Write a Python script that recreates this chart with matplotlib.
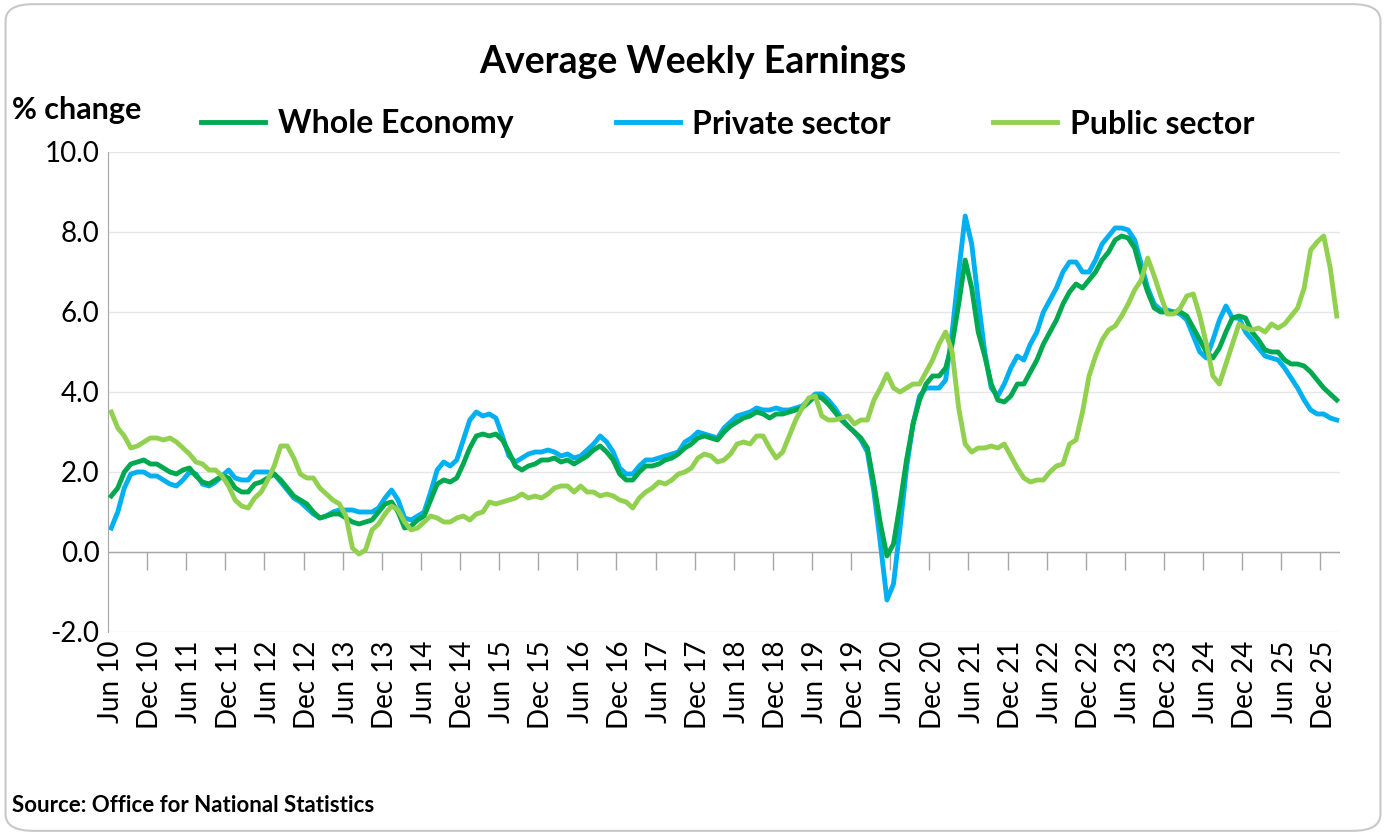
import matplotlib.pyplot as plt
from matplotlib.patches import FancyBboxPatch

plt.rcParams['font.family'] = ['Lato', 'DejaVu Sans']

# monthly values Jun 2010 .. Feb 2026
whole = [1.4, 1.6, 2.0, 2.2, 2.25, 2.3, 2.2,
         2.2, 2.1, 2.0, 1.95, 2.05, 2.1, 1.9, 1.75, 1.7, 1.8, 1.9, 1.85,
         1.6, 1.5, 1.5, 1.7, 1.75, 1.85, 1.95, 1.8, 1.6, 1.4, 1.3, 1.2,
         1.0, 0.85, 0.9, 0.95, 0.95, 0.85, 0.75, 0.7, 0.75, 0.8, 1.0, 1.2,
         1.25, 1.0, 0.6, 0.65, 0.8, 0.9, 1.3, 1.7, 1.8, 1.75, 1.85, 2.2,
         2.6, 2.9, 2.95, 2.9, 2.95, 2.8, 2.5, 2.15, 2.05, 2.15, 2.2, 2.3,
         2.3, 2.35, 2.25, 2.3, 2.2, 2.3, 2.4, 2.55, 2.65, 2.5, 2.3, 1.95,
         1.8, 1.8, 2.0, 2.15, 2.15, 2.2, 2.3, 2.35, 2.45, 2.6, 2.7, 2.85,
         2.9, 2.85, 2.8, 3.0, 3.15, 3.25, 3.35, 3.4, 3.5, 3.45, 3.35, 3.45,
         3.45, 3.5, 3.55, 3.6, 3.75, 3.9, 3.85, 3.7, 3.5, 3.3, 3.15, 3.0,
         2.85, 2.6, 1.7, 0.7, -0.1, 0.2, 1.2, 2.3, 3.2, 3.8, 4.2, 4.4,
         4.4, 4.6, 5.2, 6.2, 7.3, 6.6, 5.5, 4.9, 4.2, 3.8, 3.75, 3.9,
         4.2, 4.2, 4.5, 4.8, 5.2, 5.5, 5.8, 6.2, 6.5, 6.7, 6.6, 6.8,
         7.0, 7.3, 7.5, 7.8, 7.9, 7.85, 7.6, 7.0, 6.5, 6.1, 6.0, 6.0,
         6.0, 6.0, 5.9, 5.6, 5.3, 5.0, 4.85, 5.1, 5.5, 5.85, 5.9, 5.85,
         5.5, 5.3, 5.05, 5.0, 5.0, 4.8, 4.7, 4.7, 4.65, 4.5, 4.3, 4.1,
         3.95, 3.8]
private = [0.6, 1.0, 1.6, 1.95, 2.0, 2.0, 1.9,
           1.9, 1.8, 1.7, 1.65, 1.8, 2.0, 1.95, 1.7, 1.65, 1.75, 1.9, 2.05,
           1.85, 1.8, 1.8, 2.0, 2.0, 2.0, 1.95, 1.75, 1.55, 1.35, 1.25, 1.1,
           0.95, 0.85, 0.9, 1.0, 1.05, 1.05, 1.05, 1.0, 1.0, 1.0, 1.1, 1.35,
           1.55, 1.3, 0.85, 0.8, 0.9, 1.0, 1.5, 2.05, 2.25, 2.15, 2.3, 2.8,
           3.3, 3.5, 3.4, 3.45, 3.35, 2.9, 2.4, 2.25, 2.35, 2.45, 2.5, 2.5,
           2.55, 2.5, 2.4, 2.45, 2.35, 2.4, 2.55, 2.7, 2.9, 2.75, 2.5, 2.1,
           1.95, 1.95, 2.15, 2.3, 2.3, 2.35, 2.4, 2.45, 2.5, 2.75, 2.85, 3.0,
           2.95, 2.9, 2.85, 3.1, 3.25, 3.4, 3.45, 3.5, 3.6, 3.55, 3.55, 3.6,
           3.55, 3.55, 3.6, 3.65, 3.8, 3.95, 3.95, 3.8, 3.6, 3.35, 3.15, 3.0,
           2.8, 2.5, 1.5, 0.2, -1.2, -0.8, 0.6, 2.1, 3.2, 3.9, 4.1, 4.1,
           4.1, 4.3, 5.5, 7.0, 8.4, 7.7, 6.3, 5.0, 4.1, 3.9, 4.2, 4.6,
           4.9, 4.8, 5.2, 5.5, 6.0, 6.3, 6.6, 7.0, 7.25, 7.25, 7.0, 7.0,
           7.3, 7.7, 7.9, 8.1, 8.1, 8.05, 7.8, 7.2, 6.6, 6.2, 6.05, 6.05,
           6.0, 5.95, 5.8, 5.4, 5.0, 4.85, 5.3, 5.8, 6.15, 5.85, 5.85, 5.5,
           5.3, 5.1, 4.9, 4.85, 4.8, 4.6, 4.35, 4.1, 3.8, 3.55, 3.45, 3.45,
           3.35, 3.3]
public = [3.5, 3.1, 2.9, 2.6, 2.65, 2.75, 2.85,
          2.85, 2.8, 2.85, 2.75, 2.6, 2.45, 2.25, 2.2, 2.05, 2.05, 1.9, 1.65,
          1.3, 1.15, 1.1, 1.35, 1.5, 1.8, 2.15, 2.65, 2.65, 2.35, 1.95, 1.85,
          1.85, 1.6, 1.45, 1.3, 1.2, 0.9, 0.1, -0.05, 0.05, 0.55, 0.7, 0.95,
          1.15, 1.05, 0.75, 0.55, 0.6, 0.75, 0.9, 0.85, 0.75, 0.75, 0.85, 0.9,
          0.8, 0.95, 1.0, 1.25, 1.2, 1.25, 1.3, 1.35, 1.45, 1.35, 1.4, 1.35,
          1.45, 1.6, 1.65, 1.65, 1.5, 1.65, 1.5, 1.5, 1.4, 1.45, 1.4, 1.3,
          1.25, 1.1, 1.35, 1.5, 1.6, 1.75, 1.7, 1.8, 1.95, 2.0, 2.1, 2.35,
          2.45, 2.4, 2.25, 2.3, 2.45, 2.7, 2.75, 2.7, 2.9, 2.9, 2.6, 2.35,
          2.5, 2.9, 3.3, 3.6, 3.85, 3.9, 3.4, 3.3, 3.3, 3.35, 3.4, 3.2,
          3.3, 3.3, 3.8, 4.1, 4.45, 4.1, 4.0, 4.1, 4.2, 4.2, 4.5, 4.8,
          5.2, 5.5, 5.0, 3.6, 2.7, 2.5, 2.6, 2.6, 2.65, 2.6, 2.7, 2.4,
          2.1, 1.85, 1.75, 1.8, 1.8, 2.0, 2.15, 2.2, 2.7, 2.8, 3.5, 4.4,
          4.9, 5.3, 5.55, 5.65, 5.9, 6.2, 6.55, 6.8, 7.35, 6.9, 6.4, 5.95,
          5.95, 6.1, 6.4, 6.45, 5.9, 5.2, 4.4, 4.2, 4.7, 5.2, 5.7, 5.6,
          5.55, 5.6, 5.5, 5.7, 5.6, 5.7, 5.9, 6.1, 6.6, 7.55, 7.75, 7.9,
          7.1, 5.9]

tick_labels = [f"{m} {y:02d}" for y in range(10, 26) for m in ("Jun", "Dec")]
x = list(range(len(whole)))

fig = plt.figure(figsize=(13.86, 8.35), dpi=100)
fig.patches.append(FancyBboxPatch((0.004, 0.005), 0.992, 0.99, boxstyle="round,pad=0,rounding_size=0.02",
                                  transform=fig.transFigure, fc="white", ec="#c8c8c8", lw=1.5, zorder=-5))
ax = fig.add_axes([108 / 1386, 1 - 632 / 835, 1232 / 1386, 480 / 835])
ax.set_zorder(5)
ax.patch.set_alpha(0)

ax.plot(x, whole, color="#00a84f", lw=3.5, label="Whole Economy", zorder=3)
ax.plot(x, private, color="#00b0f0", lw=3.5, label="Private sector", zorder=2)
ax.plot(x, public, color="#92d050", lw=3.5, label="Public sector", zorder=4)

ax.set_xlim(-0.5, len(x) - 0.5)
ax.set_ylim(-2, 10)
ax.set_yticks([-2, 0, 2, 4, 6, 8, 10])
ax.set_yticklabels([f"{v:.1f}" for v in [-2, 0, 2, 4, 6, 8, 10]], fontsize=20)
ax.set_xticks(range(0, 187, 6))
ax.set_xticklabels(tick_labels, rotation=90, fontsize=20)
ax.tick_params(length=0, pad=6)
ax.grid(axis="y", color="#e6e6e6", lw=1)
ax.set_axisbelow(True)
for s in ("top", "right", "bottom"):
    ax.spines[s].set_visible(False)
ax.spines["left"].set_color("#a6a6a6")
ax.axhline(0, color="#a6a6a6", lw=1, zorder=1)
ax.vlines([i - 0.5 for i in range(6, 187, 6)], -0.45, 0, color="#a6a6a6", lw=1)

fig.text(0.5, 1 - 62 / 835, "Average Weekly Earnings", ha="center", va="center", fontsize=27, fontweight="bold")
fig.text(12 / 1386, 1 - 110 / 835, "% change", ha="left", va="center", fontsize=22, fontweight="bold")
fig.legend(loc="center", bbox_to_anchor=(0.525, 1 - 124 / 835), ncol=3, frameon=False,
           prop={"size": 23, "weight": "bold"}, handlelength=2.0, handletextpad=0.4, columnspacing=3.2)
fig.text(12 / 1386, 1 - 805 / 835, "Source: Office for National Statistics", ha="left", va="center",
         fontsize=16, fontweight="bold")

fig.savefig("out.png", dpi=100)
